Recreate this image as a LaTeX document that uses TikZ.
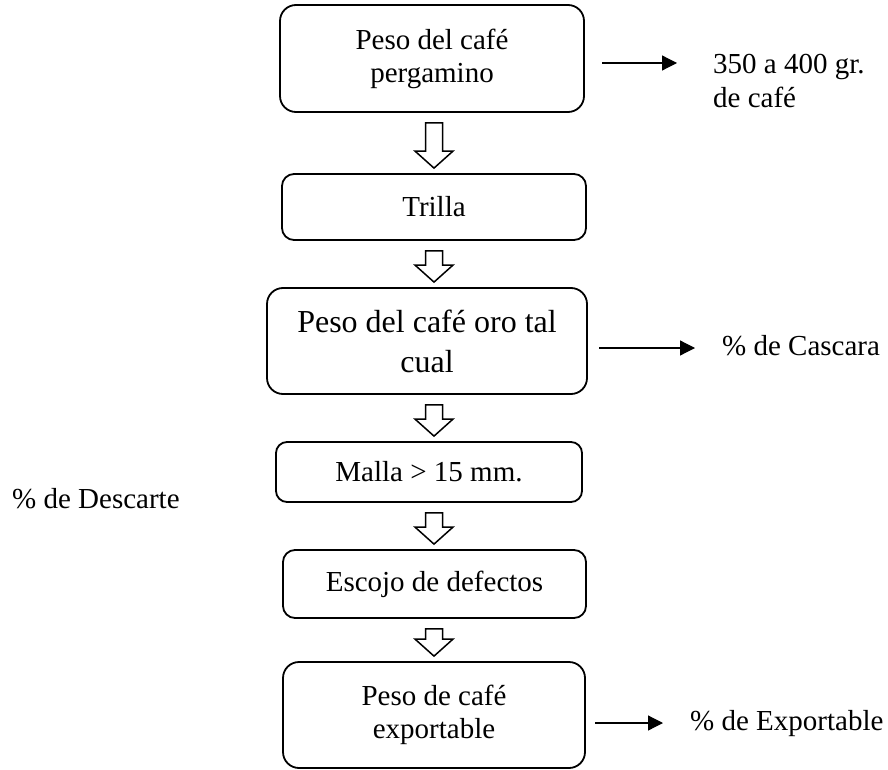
\documentclass[tikz,border=0pt]{standalone}
\usepackage{fontspec}
\setmainfont{Liberation Serif}
\usetikzlibrary{calc,arrows.meta}
\newcommand{\hollowconn}[2]{%
  \coordinate (hT) at ($(ax|-#1.south)+(0,10)$);
  \coordinate (hP) at ($(ax|-#2.north)+(0,-5)$);
  \coordinate (hB) at ($(hP)+(0,-17)$);
  \draw[hollowarrow] ($(hT)+(-8.5,0)$) -- ($(hB)+(-8.5,0)$) -- ($(hB)+(-19,0)$) -- (hP)
    -- ($(hB)+(19,0)$) -- ($(hB)+(8.5,0)$) -- ($(hT)+(8.5,0)$) -- cycle;
}
\begin{document}
\begin{tikzpicture}[x=1pt,y=-1pt,
  box/.style={draw, line width=1.8pt, rounded corners=#1, align=center, inner sep=0pt,
    font=\fontsize{29}{33}\selectfont},
  bigtext/.style={font=\fontsize{32}{40}\selectfont},
  side/.style={inner sep=0pt, align=left, font=\fontsize{29}{34}\selectfont},
  rarrow/.style={line width=1.2pt, -{Triangle[length=15pt,width=15pt]}},
  hollowarrow/.style={draw, line width=1.5pt, line join=miter, fill=white}]
\useasboundingbox (0,0) rectangle (888,770);
\coordinate (ax) at (434,0);

\node[box=16, minimum width=304pt, minimum height=107pt] (b1) at (432,58.5) {Peso del café\\pergamino};
\node[box=12, minimum width=304pt, minimum height=66pt] (b2) at (434,207) {Trilla};
\node[box=16, bigtext, minimum width=320pt, minimum height=106pt] (b3) at (427,341) {Peso del café oro tal\\cual};
\node[box=11, minimum width=306pt, minimum height=60pt] (b4) at (429,472) {Malla > 15 mm.};
\node[box=12, minimum width=303pt, minimum height=68pt] (b5) at (434.5,584) {Escojo de defectos};
\node[box=16, minimum width=302pt, minimum height=106pt] (b6) at (434,715) {Peso de café\\exportable};

\hollowconn{b1}{b2}
\hollowconn{b2}{b3}
\hollowconn{b3}{b4}
\hollowconn{b4}{b5}
\hollowconn{b5}{b6}

\node[side, anchor=west] (t1) at (713,81) {350 a 400 gr.\\de café};
\node[side, anchor=base west] (t2) at (722,355) {\% de Cascara};
\node[side, anchor=base west] (t3) at (690,730) {\% de Exportable};
\node[side, anchor=base west] (t4) at (12,508) {\% de Descarte};

\coordinate (r1s) at (602,63);  \coordinate (r1e) at (677,63);
\coordinate (r2s) at (599,348); \coordinate (r2e) at (695,348);
\coordinate (r3s) at (595,723); \coordinate (r3e) at (663,723);
\draw[rarrow] (r1s) -- (r1e);
\draw[rarrow] (r2s) -- (r2e);
\draw[rarrow] (r3s) -- (r3e);
\end{tikzpicture}
\end{document}
